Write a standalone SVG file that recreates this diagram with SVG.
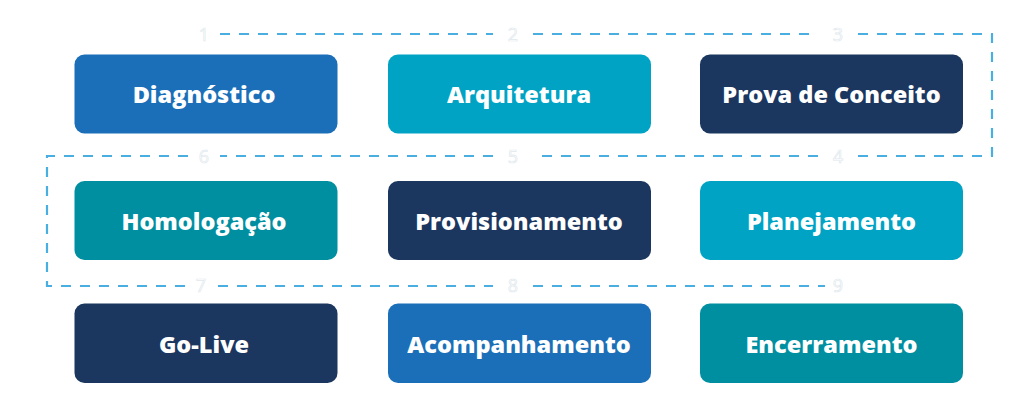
<svg xmlns="http://www.w3.org/2000/svg" width="1024" height="413" viewBox="0 0 1024 413">
<style>
.box{stroke:none}
.lbl{font-family:"Open Sans","Liberation Sans",sans-serif;font-weight:800;font-size:23.5px;fill:#ffffff;text-anchor:middle}
.num{font-family:"Open Sans","Liberation Sans",sans-serif;font-weight:400;font-size:18px;fill:#ffffff;stroke:#dfe9ee;stroke-width:0.7;text-anchor:middle}
.dash{fill:none;stroke:#4aaee0;stroke-width:2.2;stroke-dasharray:10 9}
.c1{fill:#1b6fb8}.c2{fill:#00a3c4}.c3{fill:#1b365f}.c4{fill:#008fa0}
</style>
<rect width="1024" height="413" fill="#ffffff"/>
<g id="connectors">
<path class="dash" d="M220 34 H493 M533 34 H818 M858 34 H992 V156 H858 M818 156 H533 M493 156 H220 M188 156 H47 V286 H188 M218 286 H493 M533 286 H825"/>
</g>
<g id="numbers">
<text class="num" x="204" y="41">1</text>
<text class="num" x="513" y="41">2</text>
<text class="num" x="838" y="41">3</text>
<text class="num" x="838" y="163">4</text>
<text class="num" x="513" y="163">5</text>
<text class="num" x="204" y="163">6</text>
<text class="num" x="201" y="292">7</text>
<text class="num" x="513" y="292">8</text>
<text class="num" x="838" y="292">9</text>
</g>
<g id="n1"><rect class="box c1" x="74.5" y="54.5" width="263" height="79" rx="10"/><text class="lbl" x="204" y="103">Diagnóstico</text></g>
<g id="n2"><rect class="box c2" x="388" y="54.5" width="263" height="79" rx="10"/><text class="lbl" x="519" y="103">Arquitetura</text></g>
<g id="n3"><rect class="box c3" x="700" y="54.5" width="263" height="79" rx="10"/><text class="lbl" x="831.5" y="103">Prova de Conceito</text></g>
<g id="n6"><rect class="box c4" x="74.5" y="181" width="263" height="79" rx="10"/><text class="lbl" x="204" y="229.5">Homologação</text></g>
<g id="n5"><rect class="box c3" x="388" y="181" width="263" height="79" rx="10"/><text class="lbl" x="519" y="229.5">Provisionamento</text></g>
<g id="n4"><rect class="box c2" x="700" y="181" width="263" height="79" rx="10"/><text class="lbl" x="831.5" y="229.5">Planejamento</text></g>
<g id="n7"><rect class="box c3" x="74.5" y="303.5" width="263" height="79.5" rx="10"/><text class="lbl" x="204" y="352.5">Go-Live</text></g>
<g id="n8"><rect class="box c1" x="388" y="303.5" width="263" height="79.5" rx="10"/><text class="lbl" x="519" y="352.5">Acompanhamento</text></g>
<g id="n9"><rect class="box c4" x="700" y="303.5" width="263" height="79.5" rx="10"/><text class="lbl" x="831.5" y="352.5">Encerramento</text></g>
</svg>
